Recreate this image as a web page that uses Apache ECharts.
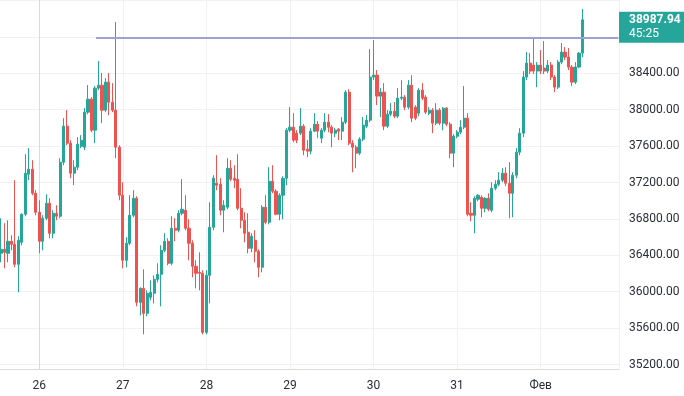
<!DOCTYPE html>
<html><head><meta charset="utf-8">
<script src="https://cdn.jsdelivr.net/npm/echarts@6/dist/echarts.min.js"></script>
<style>html,body{margin:0;padding:0;background:#fff}#c{width:684px;height:396px}</style>
</head><body><div id="c"></div>
<script>
// hours counted from 26 Jan 00:00; first candle is 25 Jan 13:00
const firstHour = -11;
const opens = [
36422,36466,36422,36554,36521,36301,36543,36851,37291,37346,37082,
36873,36554,36807,36972,36642,36862,36829,37423,37819,37632,37302,37368,37599,37588,37973,38116,37775,38237,38270,37995,38303,38083,37995,37588,
37060,36345,36532,36840,37027,35883,36037,35762,35938,35982,36136,36191,36455,36554,36312,36697,36675,36862,36895,36697,36532,36279,36213,36202,
35553,36180,36708,37192,37181,36895,36928,37357,37247,37236,36917,36785,36653,36477,36565,36444,36268,36928,36763,37214,37104,36851,37060,37247,
37775,37808,37742,37742,37819,37566,37544,37764,37841,37687,37775,37863,37808,37742,37786,37764,37863,38193,37632,37588,37522,37676,37819,37885,
38358,38380,38149,38193,37819,37951,37984,37929,38127,38138,38028,38270,38028,37962,38215,38138,37962,37995,37852,37995,37852,38017,37841,37522,
37709,37753,37808,37907,36862,36840,37016,37038,36917,37027,36895,37137,37181,37225,37302,37192,37082,37280,37533,37742,38358,38512,38490,38424,
38490,38457,38424,38490,38358,38248,38523,38633,38578,38468,38303,38468,38622
];
const closes = [
36466,36433,36554,36521,36301,36565,36851,37302,37346,37082,36873,
36554,36807,36972,36642,36862,36829,37423,37819,37632,37302,37368,37621,37665,37973,38116,37775,38237,38270,37995,38303,38083,37995,37588,37060,
36345,36532,36840,37027,35883,36037,35762,35982,35993,36136,36191,36455,36554,36312,36697,36675,36862,36906,36697,36532,36279,36202,36202,35553,
36180,36708,37247,37170,36895,36950,37357,37236,37225,36917,36785,36642,36477,36609,36444,36268,36928,36763,37214,37104,36851,37060,37247,37775,
37808,37665,37665,37819,37555,37544,37764,37841,37764,37775,37863,37808,37742,37775,37764,37863,38193,37632,37588,37522,37676,37830,37885,38358,
38380,38149,38193,37819,37951,37984,37929,38127,38138,38028,38270,37907,37907,38215,38127,37973,37995,37852,37995,37852,38017,37841,37522,37709,
37753,37808,37907,36851,36840,37027,37060,36917,37027,36906,37137,37181,37225,37302,37192,37082,37280,37533,37742,38358,38512,38424,38424,38490,
38424,38424,38490,38358,38248,38523,38633,38578,38468,38303,38468,38622,38987.94
];
const lows = [
36323,36257,36323,36455,36268,35993,36510,36829,37225,37060,36840,
36422,36455,36785,36587,36587,36785,36807,37390,37610,37247,37170,37335,37577,37555,37951,37753,37632,38215,37852,37973,37940,37973,37467,37005,
36257,36268,36510,36818,35839,35740,35531,35729,35905,35872,36103,35839,36433,36290,36290,36554,36653,36840,36675,36345,36158,36037,36015,35531,
35531,35872,36675,37115,36840,36653,36906,37214,37137,36895,36697,36543,36422,36433,36323,36158,36213,36741,36741,37082,36840,36785,36796,37170,
37753,37643,37632,37720,37500,37478,37511,37753,37687,37632,37753,37753,37588,37698,37665,37665,37841,37610,37313,37357,37500,37654,37797,37863,
38325,38050,37918,37775,37797,37929,37907,37907,38105,37995,38006,37863,37885,37929,38105,37951,37940,37742,37830,37830,37775,37819,37467,37368,
37687,37731,37786,36829,36774,36642,36994,36818,36873,36884,36873,37115,37159,37203,37159,36807,36818,37247,37500,37698,38325,38391,38391,38248,
38391,38391,38402,38325,38193,38226,38501,38545,38435,38259,38281,38457,38578
];
const highs = [
36807,36752,36785,36620,37225,36609,36862,37511,37577,37445,37115,
37005,36840,37071,37027,36895,36950,37467,37907,37995,37665,37445,37698,37720,38017,38270,38138,38259,38534,38402,38347,38402,38292,38963,37610,
37203,36598,37060,37115,37049,36048,36246,36015,36125,36180,36312,36510,36642,36587,36829,36807,36895,37236,37060,36796,36565,36345,36433,36235,
36235,36983,37280,37500,37247,37005,37467,37445,37390,37511,37137,36873,36862,36642,36675,36466,36950,37060,37368,37390,37126,37082,37269,37797,
38028,37962,37775,38017,37841,37665,37797,37962,37874,37797,37962,37951,37830,37797,37797,37918,38215,38226,37665,37610,37698,37918,37940,38666,
38765,38435,38237,38292,37995,38072,38083,38237,38325,38160,38325,38380,38050,38237,38292,38160,38028,38017,38072,38017,38028,38028,37863,37731,
37775,37885,38259,37962,36983,37049,37071,37060,37038,37082,37203,37225,37313,37357,37368,37423,37313,37577,37797,38424,38633,38622,38798,38523,
38655,38754,38545,38523,38380,38545,38732,38688,38677,38490,38523,38633,39106
];
const dayLabels = ['26','27','28','29','30','31','Фев'];
const priceMin = 35200, priceMax = 39200, priceStep = 400;
const levelPrice = 38790;     // horizontal ray
const levelStartHour = 16.3;
const countdown = '45:25';

const up = '#26a69a', down = '#ef5350';
const gridCol = '#eff1f5', axisCol = '#d9dbe0', textCol = '#2a2e39';
const candles = opens.map((o, i) => [firstHour + i, o, closes[i], lows[i], highs[i]]);
const last = closes[closes.length - 1];

const chart = echarts.init(document.getElementById('c'), null, {renderer: 'canvas'});
chart.setOption({
  animation: false,
  backgroundColor: '#ffffff',
  grid: [
    {left: -44.27, top: 0, width: 663.27, height: 369, outerBoundsMode: 'none', containLabel: false},
    {left: 0, top: 0.5, width: 619, height: 364, outerBoundsMode: 'none', containLabel: false}
  ],
  xAxis: [
    {type: 'value', gridIndex: 0, min: -24, max: 166.5, interval: 24,
     axisLine: {show: true, lineStyle: {color: axisCol, width: 1}},
     axisTick: {show: false},
     splitLine: {show: true, lineStyle: {color: gridCol, width: 1}},
     axisLabel: {show: true, margin: 11, color: textCol, fontSize: 12, fontFamily: 'Roboto',
       showMinLabel: false, showMaxLabel: false,
       formatter: v => { const k = v / 24; return (Number.isInteger(k) && k >= 0 && k < dayLabels.length) ? dayLabels[k] : ''; }}},
    {type: 'value', gridIndex: 1, min: 0, max: 1, show: false}
  ],
  yAxis: [
    {type: 'value', gridIndex: 0, position: 'right', min: 35150.5, max: 39205.5,
     axisLine: {show: true, lineStyle: {color: axisCol, width: 1}},
     axisTick: {show: false}, axisLabel: {show: false}, splitLine: {show: false}},
    {type: 'value', gridIndex: 1, position: 'right', min: priceMin, max: priceMax, interval: priceStep,
     axisLine: {show: false}, axisTick: {show: false},
     splitLine: {show: true, lineStyle: {color: gridCol, width: 1}},
     axisLabel: {margin: 10, color: textCol, fontSize: 12, fontFamily: 'Roboto',
       formatter: v => (Math.abs(v - last) < 250 ? '' : v.toFixed(2))}}
  ],
  series: [{
    type: 'candlestick',
    xAxisIndex: 0, yAxisIndex: 0,
    dimensions: ['t', 'open', 'close', 'lowest', 'highest'],
    encode: {x: 0, y: [1, 2, 3, 4]},
    data: candles,
    barWidth: 2.6,
    itemStyle: {color: up, color0: down, borderColor: up, borderColor0: down, borderWidth: 1},
    markLine: {
      silent: true, symbol: ['none', 'none'], label: {show: false},
      lineStyle: {color: '#9ea1d3', width: 2, type: 'solid'},
      data: [[{coord: [levelStartHour, levelPrice]}, {coord: [166.3, levelPrice]}]]
    },
    markPoint: {
      silent: true,
      symbol: 'rect', symbolSize: [72, 31], symbolOffset: [36, 7.5],
      itemStyle: {color: up},
      label: {show: true, position: 'insideLeft', distance: 10,
        formatter: () => '{a|' + last.toFixed(2) + '}\n{b|' + countdown + '}',
        rich: {
          a: {color: '#fff', fontSize: 12, fontWeight: 'bold', fontFamily: 'Roboto', lineHeight: 14},
          b: {color: '#fff', fontSize: 12, fontFamily: 'Roboto', lineHeight: 14}
        }},
      data: [{coord: [166.5, last]}]
    }
  }]
});
</script></body></html>
